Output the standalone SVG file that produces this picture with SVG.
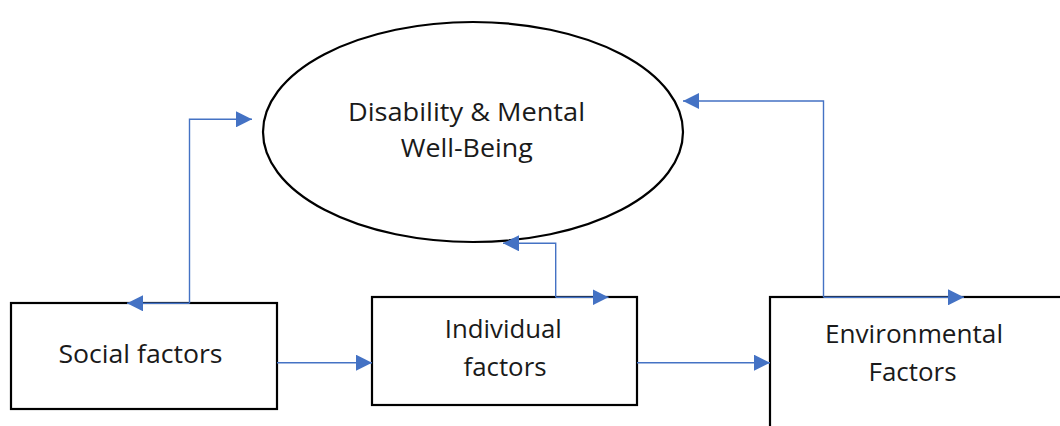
<svg xmlns="http://www.w3.org/2000/svg" width="1060" height="426" viewBox="0 0 1060 426">
  <style>
    .shape { fill: #ffffff; stroke: #000000; stroke-width: 2.2; }
    .label { font-family: "Open Sans", "Liberation Sans", sans-serif; font-size: 25px; fill: #1a1a1a; text-anchor: middle; }
    .link { fill: none; stroke: #4472C4; stroke-width: 1.4; }
  </style>
  <defs>
    <marker id="head" viewBox="0 0 16 16" refX="16" refY="8" markerWidth="16" markerHeight="16" markerUnits="userSpaceOnUse" orient="auto">
      <path d="M0,0 L16,8 L0,16 Z" fill="#4472C4"/>
    </marker>
  </defs>
  <rect width="1060" height="426" fill="#ffffff"/>

  <g id="wellbeing">
    <ellipse class="shape" cx="473" cy="132" rx="210" ry="110"/>
    <text class="label" x="466.5" y="121" textLength="237" lengthAdjust="spacingAndGlyphs">Disability &amp; Mental</text>
    <text class="label" x="466.7" y="157" textLength="132" lengthAdjust="spacingAndGlyphs">Well-Being</text>
  </g>

  <g id="social">
    <rect class="shape" x="11" y="303" width="266" height="106"/>
    <text class="label" x="140.5" y="363" textLength="164" lengthAdjust="spacingAndGlyphs">Social factors</text>
  </g>

  <g id="individual">
    <rect class="shape" x="372" y="297" width="265" height="108"/>
    <text class="label" x="503.3" y="338" textLength="117" lengthAdjust="spacingAndGlyphs">Individual</text>
    <text class="label" x="505" y="376" textLength="83" lengthAdjust="spacingAndGlyphs">factors</text>
  </g>

  <g id="environmental">
    <rect class="shape" x="770" y="297" width="300" height="140"/>
    <text class="label" x="914" y="343" textLength="178" lengthAdjust="spacingAndGlyphs">Environmental</text>
    <text class="label" x="912.5" y="381" textLength="88" lengthAdjust="spacingAndGlyphs">Factors</text>
  </g>

  <g id="connectors">
    <!-- social <-> well-being -->
    <path class="link" d="M189.5,303.3 L127,303.3" marker-end="url(#head)"/>
    <path class="link" d="M189.5,303.3 L189.5,119.3 L252,119.3" marker-end="url(#head)"/>
    <!-- individual <-> well-being -->
    <path class="link" d="M555.7,297.3 L555.7,243.3 L503,243.3" marker-end="url(#head)"/>
    <path class="link" d="M555.7,297.3 L608.5,297.3" marker-end="url(#head)"/>
    <!-- environmental <-> well-being -->
    <path class="link" d="M823.5,297.3 L823.5,101 L683,101" marker-end="url(#head)"/>
    <path class="link" d="M823.5,297.3 L964,297.3" marker-end="url(#head)"/>
    <!-- chain between boxes -->
    <path class="link" d="M277,362.7 L372,362.7" marker-end="url(#head)"/>
    <path class="link" d="M637,362.7 L770,362.7" marker-end="url(#head)"/>
  </g>
</svg>
